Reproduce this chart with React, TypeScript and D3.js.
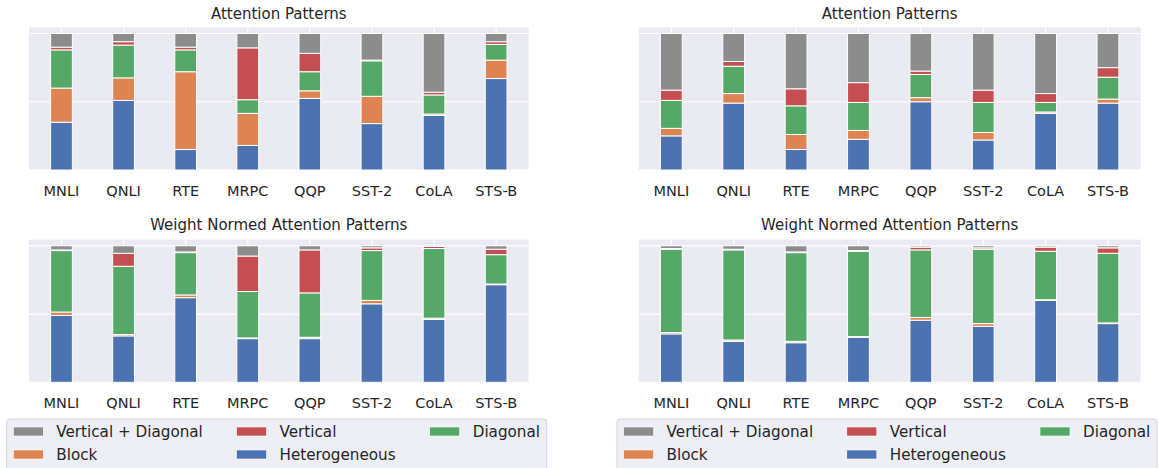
import React from 'react';
import * as d3 from 'd3';

const categories = ['MNLI', 'QNLI', 'RTE', 'MRPC', 'QQP', 'SST-2', 'CoLA', 'STS-B'];
// stacked bottom -> top
const patterns = ['Heterogeneous', 'Block', 'Diagonal', 'Vertical', 'Vertical + Diagonal'];
const colors = ['#4C72B0', '#DD8452', '#55A868', '#C44E52', '#8C8C8C'];
// legend order (column-major, 3 columns)
const legendOrder = ['Vertical + Diagonal', 'Block', 'Vertical', 'Heterogeneous', 'Diagonal'];

// top left: Attention Patterns
const tlHetero = [0.35, 0.51, 0.15, 0.18, 0.525, 0.34, 0.40, 0.67];
const tlBlock = [0.25, 0.165, 0.57, 0.235, 0.055, 0.20, 0.01, 0.135];
const tlDiag = [0.28, 0.24, 0.16, 0.10, 0.14, 0.26, 0.14, 0.115];
const tlVert = [0.02, 0.025, 0.02, 0.38, 0.135, 0.005, 0.02, 0.02];
const tlVertDiag = [0.10, 0.06, 0.10, 0.105, 0.145, 0.195, 0.43, 0.06];

// top right: Attention Patterns
const trHetero = [0.25, 0.49, 0.15, 0.225, 0.50, 0.22, 0.415, 0.49];
const trBlock = [0.055, 0.07, 0.11, 0.065, 0.03, 0.055, 0.01, 0.03];
const trDiag = [0.205, 0.20, 0.21, 0.205, 0.17, 0.22, 0.07, 0.16];
const trVert = [0.075, 0.035, 0.125, 0.145, 0.025, 0.09, 0.065, 0.07];
const trVertDiag = [0.415, 0.205, 0.405, 0.36, 0.275, 0.415, 0.44, 0.25];

// bottom left: Weight Normed Attention Patterns
const blHetero = [0.49, 0.34, 0.62, 0.32, 0.32, 0.575, 0.46, 0.715];
const blBlock = [0.025, 0.01, 0.02, 0.005, 0.01, 0.025, 0.01, 0.005];
const blDiag = [0.45, 0.50, 0.31, 0.34, 0.325, 0.365, 0.51, 0.215];
const blVert = [0.005, 0.095, 0.005, 0.26, 0.315, 0.02, 0.015, 0.04];
const blVertDiag = [0.03, 0.055, 0.045, 0.075, 0.03, 0.015, 0.005, 0.025];

// bottom right: Weight Normed Attention Patterns
const brHetero = [0.355, 0.30, 0.29, 0.33, 0.455, 0.41, 0.60, 0.43];
const brBlock = [0.01, 0.01, 0.01, 0.005, 0.02, 0.02, 0.005, 0.005];
const brDiag = [0.61, 0.66, 0.65, 0.625, 0.495, 0.545, 0.355, 0.51];
const brVert = [0.005, 0.005, 0.005, 0.005, 0.02, 0.01, 0.03, 0.04];
const brVertDiag = [0.02, 0.025, 0.045, 0.035, 0.01, 0.015, 0.01, 0.015];

const FONT = '"DejaVu Sans", sans-serif';
const TEXT = '#262626';
const UNIT = 136.5; // px per 1.0 on y
const YMAX = 1.045;
const BAR_W = 0.35;

function buildRows(series: number[][]) {
  return categories.map((c, i) => {
    const row: Record<string, any> = { cat: c };
    patterns.forEach((p, k) => (row[p] = series[k][i]));
    return row;
  });
}

interface PanelProps {
  x0: number;
  x1: number;
  bottom: number;
  title: string;
  titleY: number;
  series: number[][];
}

function Panel({ x0, x1, bottom, title, titleY, series }: PanelProps) {
  const x = d3.scaleLinear().domain([-0.523, categories.length - 1 + 0.523]).range([x0, x1]);
  const y = d3.scaleLinear().domain([0, YMAX]).range([bottom, bottom - YMAX * UNIT]);
  const stacked = d3.stack<any>().keys(patterns)(buildRows(series));
  const color = d3.scaleOrdinal<string, string>().domain(patterns).range(colors);

  return (
    <g>
      <rect x={x0} y={y(YMAX)} width={x1 - x0} height={y(0) - y(YMAX)} fill="#EAEAF2" />
      {categories.map((c, i) => (
        <line key={c} x1={x(i)} x2={x(i)} y1={y(0)} y2={y(YMAX)} stroke="#fff" strokeWidth={1.2} />
      ))}
      {[0, 0.5, 1].map((t) => (
        <line key={t} x1={x0} x2={x1} y1={y(t)} y2={y(t)} stroke="#fff" strokeWidth={1.2} />
      ))}
      {stacked.map((layer) => (
        <g key={layer.key} fill={color(layer.key)}>
          {layer.map((d, i) => (
            <rect
              key={i}
              x={x(i - BAR_W / 2)}
              width={x(i + BAR_W / 2) - x(i - BAR_W / 2)}
              y={y(d[1])}
              height={Math.max(0, y(d[0]) - y(d[1]))}
              stroke="#fff"
              strokeWidth={1}
            />
          ))}
        </g>
      ))}
      {categories.map((c, i) => (
        <text
          key={c}
          x={x(i)}
          y={bottom + 25.7}
          textAnchor="middle"
          fontSize={14.5}
          fill={TEXT}
        >
          {c}
        </text>
      ))}
      <text x={(x0 + x1) / 2} y={titleY} textAnchor="middle" fontSize={15} fill={TEXT}>
        {title}
      </text>
    </g>
  );
}

function Legend({ left }: { left: number }) {
  const color = d3.scaleOrdinal<string, string>().domain(patterns).range(colors);
  const colX = [6.6, 229.8, 423];
  const rowY = [431.5, 454.5];
  return (
    <g>
      <rect x={left} y={419} width={540} height={70} rx={3} fill="#EEEEF5" stroke="#D4D4D8" strokeWidth={1} />
      {legendOrder.map((name, i) => {
        const col = Math.floor(i / 2);
        const row = i % 2;
        const px = left + colX[col];
        const cy = rowY[row];
        return (
          <g key={name}>
            <rect x={px} y={cy - 4.5} width={30} height={9} fill={color(name)} stroke="#fff" strokeWidth={0.6} />
            <text x={px + 43} y={cy} dy="0.36em" fontSize={15.2} fill={TEXT}>
              {name}
            </text>
          </g>
        );
      })}
    </g>
  );
}

export default function App() {
  return (
    <svg
      width={1158}
      height={468}
      style={{ position: 'absolute', left: 0, top: 0, background: '#fff', fontFamily: FONT }}
    >
      <Panel
        x0={29}
        x1={528.6}
        bottom={170}
        title="Attention Patterns"
        titleY={18.5}
        series={[tlHetero, tlBlock, tlDiag, tlVert, tlVertDiag]}
      />
      <Panel
        x0={638.7}
        x1={1140.6}
        bottom={170}
        title="Attention Patterns"
        titleY={18.5}
        series={[trHetero, trBlock, trDiag, trVert, trVertDiag]}
      />
      <Panel
        x0={29}
        x1={528.6}
        bottom={382.3}
        title="Weight Normed Attention Patterns"
        titleY={229.5}
        series={[blHetero, blBlock, blDiag, blVert, blVertDiag]}
      />
      <Panel
        x0={638.7}
        x1={1140.6}
        bottom={382.3}
        title="Weight Normed Attention Patterns"
        titleY={229.5}
        series={[brHetero, brBlock, brDiag, brVert, brVertDiag]}
      />
      <Legend left={6.7} />
      <Legend left={617} />
    </svg>
  );
}
